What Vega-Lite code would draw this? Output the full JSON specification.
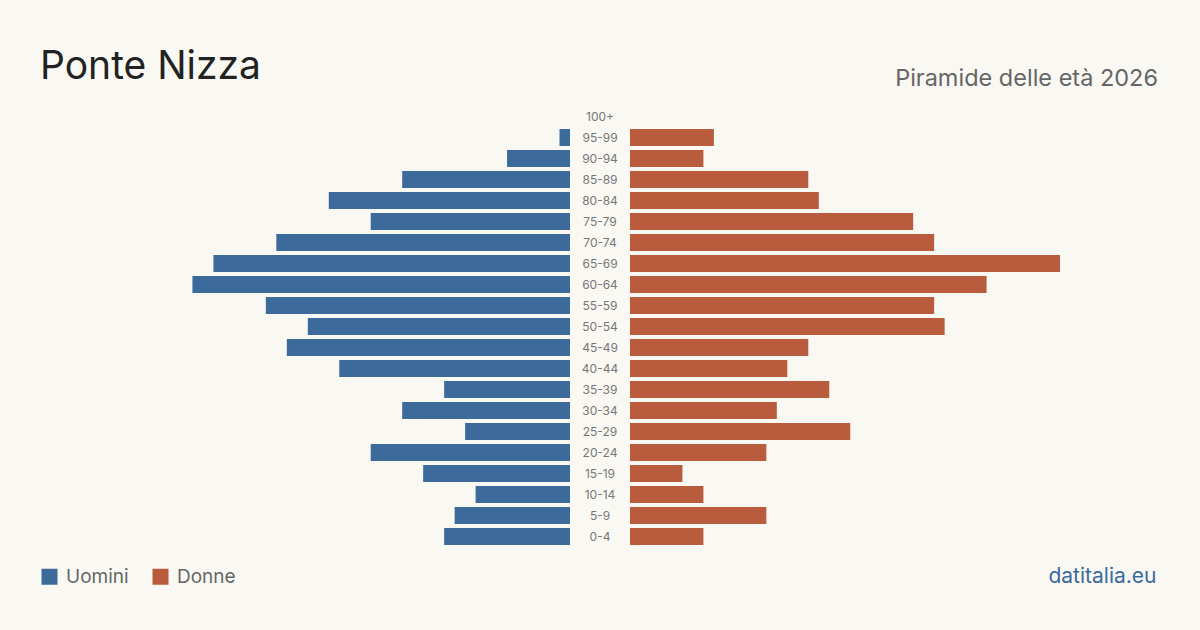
{
  "$schema": "https://vega.github.io/schema/vega-lite/v6.json",
  "background": "#faf8f3",
  "padding": {"left": 40, "top": 48, "right": 42, "bottom": 45},
  "autosize": {"type": "pad"},
  "config": {
    "view": {"stroke": null},
    "font": "Inter",
    "title": {"font": "Inter", "fontWeight": "normal"}
  },
  "data": {"values": [
    {"age": "100+", "sex": "Uomini", "value": 0}, {"age": "100+", "sex": "Donne", "value": 0},
    {"age": "95-99", "sex": "Uomini", "value": 1}, {"age": "95-99", "sex": "Donne", "value": 8},
    {"age": "90-94", "sex": "Uomini", "value": 6}, {"age": "90-94", "sex": "Donne", "value": 7},
    {"age": "85-89", "sex": "Uomini", "value": 16}, {"age": "85-89", "sex": "Donne", "value": 17},
    {"age": "80-84", "sex": "Uomini", "value": 23}, {"age": "80-84", "sex": "Donne", "value": 18},
    {"age": "75-79", "sex": "Uomini", "value": 19}, {"age": "75-79", "sex": "Donne", "value": 27},
    {"age": "70-74", "sex": "Uomini", "value": 28}, {"age": "70-74", "sex": "Donne", "value": 29},
    {"age": "65-69", "sex": "Uomini", "value": 34}, {"age": "65-69", "sex": "Donne", "value": 41},
    {"age": "60-64", "sex": "Uomini", "value": 36}, {"age": "60-64", "sex": "Donne", "value": 34},
    {"age": "55-59", "sex": "Uomini", "value": 29}, {"age": "55-59", "sex": "Donne", "value": 29},
    {"age": "50-54", "sex": "Uomini", "value": 25}, {"age": "50-54", "sex": "Donne", "value": 30},
    {"age": "45-49", "sex": "Uomini", "value": 27}, {"age": "45-49", "sex": "Donne", "value": 17},
    {"age": "40-44", "sex": "Uomini", "value": 22}, {"age": "40-44", "sex": "Donne", "value": 15},
    {"age": "35-39", "sex": "Uomini", "value": 12}, {"age": "35-39", "sex": "Donne", "value": 19},
    {"age": "30-34", "sex": "Uomini", "value": 16}, {"age": "30-34", "sex": "Donne", "value": 14},
    {"age": "25-29", "sex": "Uomini", "value": 10}, {"age": "25-29", "sex": "Donne", "value": 21},
    {"age": "20-24", "sex": "Uomini", "value": 19}, {"age": "20-24", "sex": "Donne", "value": 13},
    {"age": "15-19", "sex": "Uomini", "value": 14}, {"age": "15-19", "sex": "Donne", "value": 5},
    {"age": "10-14", "sex": "Uomini", "value": 9}, {"age": "10-14", "sex": "Donne", "value": 7},
    {"age": "5-9", "sex": "Uomini", "value": 11}, {"age": "5-9", "sex": "Donne", "value": 13},
    {"age": "0-4", "sex": "Uomini", "value": 12}, {"age": "0-4", "sex": "Donne", "value": 7}
  ]},
  "spacing": 0,
  "resolve": {"scale": {"x": "independent", "y": "shared", "color": "shared"}},
  "hconcat": [
    {
      "width": 430,
      "height": 441,
      "title": {"text": "Ponte Nizza", "anchor": "start", "dx": -100, "fontSize": 39, "color": "#222222", "offset": 19},
      "transform": [{"filter": "datum.sex === 'Uomini'"}],
      "mark": {"type": "bar"},
      "encoding": {
        "y": {"field": "age", "type": "ordinal", "sort": ["100+","95-99","90-94","85-89","80-84","75-79","70-74","65-69","60-64","55-59","50-54","45-49","40-44","35-39","30-34","25-29","20-24","15-19","10-14","5-9","0-4"], "scale": {"paddingInner": 0.19, "paddingOuter": 0.095}, "axis": null},
        "x": {"field": "value", "type": "quantitative", "scale": {"domain": [0, 41], "reverse": true}, "axis": null},
        "color": {"field": "sex", "type": "nominal", "scale": {"domain": ["Uomini", "Donne"], "range": ["#3b6a9b", "#b95c3e"]},
          "legend": {"title": null, "orient": "none", "direction": "horizontal", "legendX": -100, "legendY": 461, "symbolType": "square", "symbolSize": 256, "symbolStrokeWidth": 0, "symbolOpacity": 1, "labelFontSize": 19, "labelColor": "#666666", "labelFont": "Inter", "columnPadding": 22, "labelOffset": 7}}
      }
    },
    {
      "width": 60,
      "height": 441,
      "transform": [{"filter": "datum.sex === 'Uomini'"}],
      "mark": {"type": "text", "fontSize": 12, "color": "#777777", "font": "Inter"},
      "encoding": {
        "y": {"field": "age", "type": "ordinal", "sort": ["100+","95-99","90-94","85-89","80-84","75-79","70-74","65-69","60-64","55-59","50-54","45-49","40-44","35-39","30-34","25-29","20-24","15-19","10-14","5-9","0-4"], "axis": null},
        "text": {"field": "age"}
      }
    },
    {
      "width": 430,
      "height": 441,
      "title": {"text": "Piramide delle età 2026", "anchor": "end", "dx": 2, "fontSize": 23.5, "color": "#666666", "offset": 16},
      "transform": [{"filter": "datum.sex === 'Donne'"}],
      "mark": {"type": "bar"},
      "encoding": {
        "y": {"field": "age", "type": "ordinal", "sort": ["100+","95-99","90-94","85-89","80-84","75-79","70-74","65-69","60-64","55-59","50-54","45-49","40-44","35-39","30-34","25-29","20-24","15-19","10-14","5-9","0-4"], "axis": null},
        "x": {"field": "value", "type": "quantitative", "scale": {"domain": [0, 41]},
          "axis": {"orient": "bottom", "domain": false, "ticks": false, "labels": false, "grid": false, "title": "datitalia.eu", "titleFont": "Inter", "titleFontWeight": "normal", "titleFontSize": 21, "titleColor": "#3b6a9b", "titleAnchor": "end", "titleAlign": "right", "titleX": 526, "titleY": 18, "titleBaseline": "top"}},
        "color": {"field": "sex", "type": "nominal"}
      }
    }
  ]
}
